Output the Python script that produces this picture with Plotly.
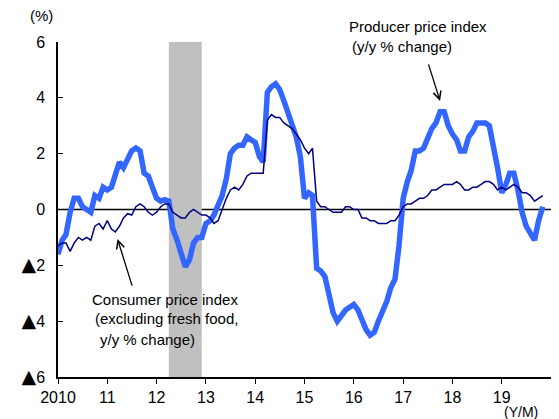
import pandas as pd
import plotly.graph_objects as go

months = pd.date_range("2010-01-01", periods=119, freq="MS")

ppi = [
    -1.6, -1.1, -0.9, -0.1, 0.4, 0.4, 0.1, 0.0, -0.1, 0.5, 0.4, 0.8,      # 2010
    0.7, 0.8, 1.3, 1.7, 1.5, 1.8, 2.1, 2.2, 2.1, 1.3, 1.2, 0.8,           # 2011
    0.4, 0.3, 0.35, 0.3, -0.7, -1.1, -1.6, -2.05, -1.8, -1.2, -1.0, -1.0, # 2012
    -0.5, -0.4, -0.2, 0.1, 0.5, 1.1, 2.0, 2.2, 2.3, 2.3, 2.6, 2.5,        # 2013
    2.4, 1.9, 1.7, 4.2, 4.4, 4.5, 4.3, 3.9, 3.5, 3.0, 2.6, 1.9,           # 2014
    0.4, 0.6, 0.5, -2.1, -2.2, -2.4, -3.1, -3.7, -4.0, -3.8, -3.6, -3.5,  # 2015
    -3.4, -3.6, -4.0, -4.3, -4.5, -4.4, -4.0, -3.7, -3.3, -2.8, -2.5, -1.3,  # 2016
    0.4, 1.0, 1.4, 2.1, 2.1, 2.2, 2.6, 2.9, 3.1, 3.5, 3.5, 3.0,           # 2017
    2.7, 2.5, 2.1, 2.1, 2.6, 2.8, 3.1, 3.1, 3.1, 3.0, 2.3, 1.5,           # 2018
    0.6, 0.9, 1.3, 1.3, 0.7, -0.1, -0.6, -0.9, -1.1, -0.4, 0.1,           # 2019
]

cpi = [
    -1.3, -1.2, -1.2, -1.5, -1.2, -1.0, -1.1, -1.0, -1.1, -0.6, -0.5, -0.7,  # 2010
    -0.4, -0.7, -0.8, -0.6, -0.3, -0.15, -0.2, 0.1, 0.2, 0.1, -0.1, -0.2,   # 2011
    -0.1, 0.1, 0.2, 0.2, -0.1, -0.2, -0.3, -0.3, -0.1, 0.0, -0.1, -0.2,     # 2012
    -0.2, -0.3, -0.5, -0.4, 0.0, 0.4, 0.7, 0.8, 0.7, 0.9, 1.2, 1.3,         # 2013
    1.3, 1.3, 1.3, 3.2, 3.4, 3.3, 3.3, 3.1, 3.0, 2.9, 2.7, 2.5,             # 2014
    2.2, 2.0, 2.2, 0.3, 0.1, 0.1, 0.0, -0.1, -0.1, -0.1, 0.1, 0.1,          # 2015
    0.0, 0.0, -0.3, -0.3, -0.4, -0.4, -0.5, -0.5, -0.5, -0.4, -0.4, -0.2,   # 2016
    0.1, 0.2, 0.2, 0.3, 0.4, 0.4, 0.5, 0.7, 0.7, 0.8, 0.9, 0.9,             # 2017
    0.9, 1.0, 0.9, 0.7, 0.7, 0.8, 0.8, 0.9, 1.0, 1.0, 0.9, 0.7,             # 2018
    0.8, 0.7, 0.8, 0.9, 0.8, 0.6, 0.6, 0.5, 0.3, 0.4, 0.5,                  # 2019
]

year_ticks = [f"{y}-01-01" for y in range(2010, 2020)]
year_labels = ["2010", "11", "12", "13", "14", "15", "16", "17", "18", "19"]
y_ticks = [-6, -4, -2, 0, 2, 4, 6]
y_labels = ["▲6", "▲4", "▲2", "0", "2", "4", "6"]

recession = ("2012-04-01", "2012-12-01")

FONT = "Liberation Sans, Arial, sans-serif"
TRI = "<span style='font-family:DejaVu Sans;font-size:19px'>▲</span>"
y_text = [t.replace("▲", TRI) for t in y_labels]

fig = go.Figure()
fig.add_trace(go.Scatter(x=months, y=ppi, mode="lines",
                         line=dict(color="#3366FF", width=5.5),
                         name="Producer price index", showlegend=False))
fig.add_trace(go.Scatter(x=months, y=cpi, mode="lines",
                         line=dict(color="#000080", width=1.5),
                         name="Consumer price index", showlegend=False))

fig.add_shape(type="rect", xref="x", yref="y", x0=recession[0], x1=recession[1],
              y0=-6, y1=6, fillcolor="#C0C0C0", line=dict(width=0), layer="below")
fig.add_shape(type="line", xref="paper", yref="y", x0=0, x1=1, y0=0, y1=0,
              line=dict(color="black", width=1.3), layer="below")

ann_font = dict(family=FONT, size=15, color="black")
annotations = [
    dict(text="(%)", xref="paper", yref="paper", x=-0.034, y=1.078,
         xanchor="center", yanchor="middle", showarrow=False, font=ann_font),
    dict(text="(Y/M)", xref="paper", yref="paper", x=0.939, y=-0.105,
         xanchor="center", yanchor="middle", showarrow=False,
         font=dict(family=FONT, size=14, color="black")),
    dict(text="Producer price index", xref="paper", yref="paper", x=0.586, y=1.045,
         xanchor="left", yanchor="middle", showarrow=False, font=ann_font),
    dict(text="(y/y % change)", xref="paper", yref="paper", x=0.592, y=0.988,
         xanchor="left", yanchor="middle", showarrow=False, font=ann_font),
    dict(text="Consumer price index", xref="paper", yref="paper", x=0.065, y=0.23,
         xanchor="left", yanchor="middle", showarrow=False, font=ann_font),
    dict(text="(excluding fresh food,", xref="paper", yref="paper", x=0.071, y=0.175,
         xanchor="left", yanchor="middle", showarrow=False, font=ann_font),
    dict(text="y/y % change)", xref="paper", yref="paper", x=0.081, y=0.113,
         xanchor="left", yanchor="middle", showarrow=False, font=ann_font),
    # arrows
    dict(text="", x="2017-10-01", y=3.89, xref="x", yref="y", showarrow=True,
         ax=-12, ay=-38, arrowhead=5, arrowsize=1.2, arrowwidth=1.3, arrowcolor="black"),
    dict(text="", x="2011-03-18", y=-1.06, xref="x", yref="y", showarrow=True,
         ax=15, ay=48, arrowhead=5, arrowsize=1.2, arrowwidth=1.3, arrowcolor="black"),
]

# the page places the figure 8px from the top-left corner, so the figure is
# sized to fill the remaining 551x411 of the 559x419 window
fig.update_layout(
    width=551, height=411,
    margin=dict(l=50, r=8, t=34, b=42, autoexpand=False),
    paper_bgcolor="white", plot_bgcolor="white",
    font=dict(family=FONT, size=16, color="black"),
    annotations=annotations,
    showlegend=False,
)
fig.update_xaxes(type="date", range=["2010-01-01", "2020-01-01"],
                 tickvals=year_ticks, ticktext=year_labels, automargin=False,
                 ticks="outside", ticklen=5, tickwidth=1.3, tickcolor="black",
                 showline=True, linecolor="black", linewidth=1.5,
                 showgrid=False, zeroline=False,
                 tickfont=dict(family=FONT, size=16, color="black"))
fig.update_yaxes(range=[-6, 6], tickvals=y_ticks, ticktext=y_text, automargin=False,
                 ticks="inside", ticklen=5, tickwidth=1.3, tickcolor="black",
                 showline=True, linecolor="black", linewidth=1.5,
                 showgrid=False, zeroline=False, ticklabelstandoff=8,
                 tickfont=dict(family=FONT, size=16, color="black"))

fig.write_html("out.html")
